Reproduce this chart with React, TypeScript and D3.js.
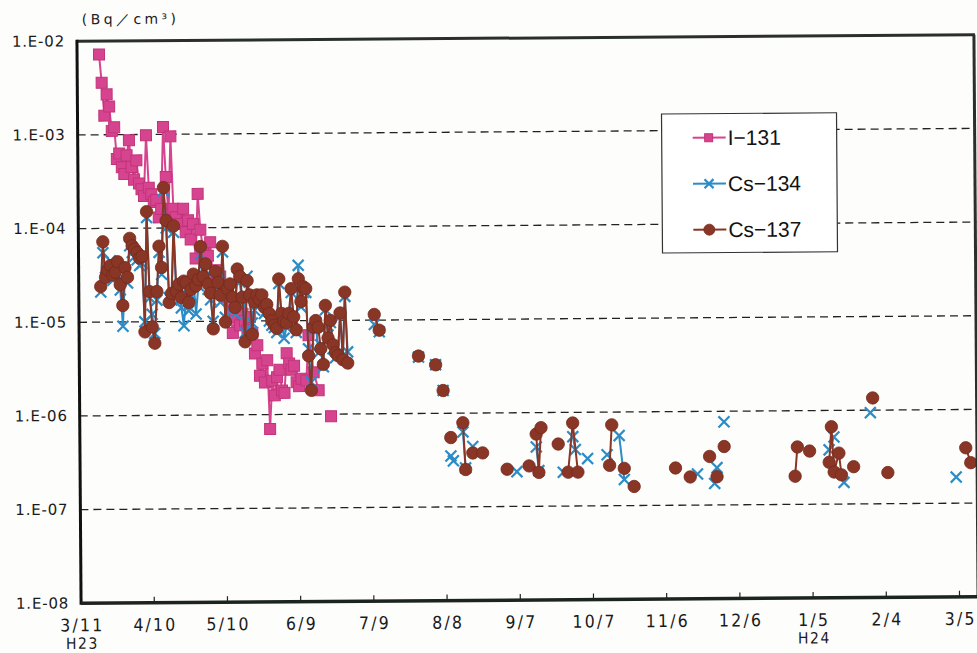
import React from 'react';
import * as d3 from 'd3';

const W = 977;
const H = 653;
const PLOT = { left: 79, right: 977, top: 38, bottom: 600 };

// x axis: ticks every 30 days from 3/11 (H23)
const tickDates = [
  '2011-03-11', '2011-04-10', '2011-05-10', '2011-06-09', '2011-07-09', '2011-08-08', '2011-09-07',
  '2011-10-07', '2011-11-06', '2011-12-06', '2012-01-05', '2012-02-04', '2012-03-05',
];
const tickLabels = ['3/11', '4/10', '5/10', '6/9', '7/9', '8/8', '9/7', '10/7', '11/6', '12/6', '1/5', '2/4', '3/5'];
const eraLabels = ['H23', '', '', '', '', '', '', '', '', '', 'H24', '', ''];

const yTicks = [1e-2, 1e-3, 1e-4, 1e-5, 1e-6, 1e-7, 1e-8];
const yTickLabels = ['1.E-02', '1.E-03', '1.E-04', '1.E-05', '1.E-06', '1.E-07', '1.E-08'];

// daily measurements 3/20 - 6/29 (2011)
const denseDates = [
  '3/20', '3/21', '3/22', '3/23', '3/24', '3/25', '3/26', '3/27', '3/28', '3/29', '3/30', '3/31',
  '4/1', '4/2', '4/3', '4/4', '4/5', '4/6', '4/7', '4/8', '4/9', '4/10',
  '4/11', '4/12', '4/13', '4/14', '4/15', '4/16', '4/17', '4/18', '4/19', '4/20',
  '4/21', '4/22', '4/23', '4/24', '4/25', '4/26', '4/27', '4/28', '4/29', '4/30',
  '5/1', '5/2', '5/3', '5/4', '5/5', '5/6', '5/7', '5/8', '5/9', '5/10',
  '5/11', '5/12', '5/13', '5/14', '5/15', '5/16', '5/17', '5/18', '5/19', '5/20',
  '5/21', '5/22', '5/23', '5/24', '5/25', '5/26', '5/27', '5/28', '5/29', '5/30', '5/31',
  '6/1', '6/2', '6/3', '6/4', '6/5', '6/6', '6/7', '6/8', '6/9', '6/10',
  '6/11', '6/12', '6/13', '6/14', '6/15', '6/16', '6/17', '6/18', '6/19', '6/20',
  '6/21', '6/22', '6/23', '6/24', '6/25', '6/26', '6/27', '6/28', '6/29',
];

const i131Dense: (number | null)[] = [
  7.2e-3, 3.6e-3, 1.6e-3, 2.7e-3, 2.0e-3, 1.1e-3, 1.2e-3, 5.5e-4, 6.3e-4, 4.5e-4, 3.8e-4, 6.0e-4,
  8.7e-4, 4.5e-4, 3.3e-4, 5.3e-4, 3.0e-4, 2.6e-4, 2.2e-4, 9.8e-4, 2.7e-4, 2.3e-4,
  1.9e-4, 2.0e-4, 1.3e-4, 1.6e-4, 1.2e-3, 3.5e-4, 1.4e-4, 9.5e-4, 1.6e-4, 1.3e-4,
  1.1e-4, 1.1e-4, 1.6e-4, 9.0e-5, 1.2e-4, 7.5e-5, 1.1e-4, 4.7e-5, 2.3e-4, 9.5e-5,
  6.0e-5, 4.5e-5, 5.0e-5, 7.0e-5, 2.6e-5, 3.5e-5, 2.5e-5, 3.0e-5, 2.2e-5, 1.8e-5,
  2.0e-5, 1.3e-5, 7.5e-6, 1.1e-5, 1.5e-5, 9.0e-6, 1.2e-5, 1.0e-5, 8.0e-6, 1.1e-5,
  7.5e-6, 4.5e-6, 5.5e-6, 2.6e-6, 3.5e-6, 2.2e-6, 3.8e-6, 7.0e-7, 2.3e-6, 1.6e-6, 2.5e-6,
  3.0e-6, 1.8e-6, 1.7e-6, 4.5e-6, 3.5e-6, 3.0e-6, 3.3e-6, 2.2e-6, 2.0e-6, 2.4e-6,
  null, 2.3e-6, 7.0e-6, null, 2.8e-6, null, 1.8e-6, null, null, null,
  null, 9.5e-7, null, null, null, null, null, null, null,
];

const cs134Dense: (number | null)[] = [
  2.1e-5, 5.5e-5, 3.0e-5, 3.5e-5, 4.5e-5, 2.8e-5, 3.0e-5, 3.8e-5, 2.2e-5, 9.0e-6, 3.3e-5, 2.6e-5,
  6.5e-5, 5.5e-5, 5.0e-5, 4.6e-5, 4.0e-5, 4.2e-5, 1.0e-5, 1.3e-4, 1.8e-5, 1.2e-5,
  7.5e-6, 1.7e-5, 5.5e-5, 3.2e-5, 2.5e-4, 1.0e-4, 1.8e-5, 1.7e-5, 9.0e-5, 1.9e-5,
  2.2e-5, 1.4e-5, 9.0e-6, 2.2e-5, 1.3e-5, 1.9e-5, 2.8e-5, 1.2e-5, 2.4e-5, 5.2e-5,
  2.6e-5, 3.5e-5, 2.2e-5, 1.7e-5, 1.0e-5, 2.9e-5, 2.2e-5, 1.6e-5, 5.5e-5, 1.1e-5,
  1.9e-5, 2.1e-5, 1.5e-5, 1.2e-5, 3.0e-5, 2.6e-5, 1.5e-5, 7.5e-6, 3.0e-5, 1.7e-5,
  9.5e-6, 1.3e-5, 1.6e-5, 1.5e-5, 1.8e-5, 1.2e-5, 1.3e-5, 1.0e-5, 9.0e-6, 8.5e-6, 7.5e-6,
  2.5e-5, 1.1e-5, 6.5e-6, 8.5e-6, 1.0e-5, 2.0e-5, 1.0e-5, 7.5e-6, 3.9e-5, 1.4e-5,
  2.0e-5, 2.0e-5, 5.0e-6, 2.2e-6, 8.0e-6, 9.5e-6, 4.5e-6, 5.5e-6, 3.2e-6, 1.3e-5,
  7.0e-6, 9.5e-6, 5.0e-6, 4.0e-6, 4.5e-6, 1.1e-5, 4.2e-6, 1.8e-5, 4.6e-6,
];

const cs137Dense: (number | null)[] = [
  2.4e-5, 7.2e-5, 3.0e-5, 3.6e-5, 4.0e-5, 3.2e-5, 3.4e-5, 4.4e-5, 2.5e-5, 1.5e-5, 3.8e-5, 3.0e-5,
  7.8e-5, 6.5e-5, 6.0e-5, 5.5e-5, 4.8e-5, 5.0e-5, 7.8e-6, 1.5e-4, 2.1e-5, 8.8e-6,
  5.9e-6, 2.1e-5, 6.4e-5, 3.8e-5, 2.7e-4, 1.2e-4, 1.6e-5, 2.0e-5, 1.05e-4, 2.1e-5,
  2.5e-5, 1.8e-5, 2.7e-5, 2.6e-5, 1.6e-5, 2.2e-5, 3.2e-5, 2.4e-5, 2.8e-5, 6.3e-5,
  3.0e-5, 4.1e-5, 2.5e-5, 2.0e-5, 8.3e-6, 3.4e-5, 2.6e-5, 1.9e-5, 6.3e-5, 9.8e-6,
  2.2e-5, 2.5e-5, 1.8e-5, 1.4e-5, 3.6e-5, 3.0e-5, 1.8e-5, 6.0e-6, 2.7e-5, 1.9e-5,
  7.2e-6, 1.6e-5, 1.9e-5, 1.7e-5, 1.9e-5, 1.4e-5, 1.5e-5, 1.2e-5, 1.0e-5, 9.0e-6, 8.3e-6,
  2.8e-5, 1.2e-5, 9.8e-6, 9.5e-6, 1.2e-5, 2.2e-5, 1.1e-5, 8.0e-6, 2.8e-5, 1.6e-5,
  2.3e-5, 2.2e-5, 4.2e-6, 1.8e-6, 8.5e-6, 1.0e-5, 8.5e-6, 5.0e-6, 3.4e-6, 1.45e-5,
  6.5e-6, 1.0e-5, 5.5e-6, 4.5e-6, 4.2e-6, 1.2e-5, 3.8e-6, 2.0e-5, 3.5e-6,
];

// later, sparser measurements
const cs134LaterDates = [
  '2011-07-10', '2011-07-12', '2011-07-28', '2011-08-04', '2011-08-07', '2011-08-10', '2011-08-11',
  '2011-08-15', '2011-08-16', '2011-08-19', '2011-09-06', '2011-09-14', '2011-09-15', '2011-09-25',
  '2011-09-29', '2011-09-30', '2011-10-05', '2011-10-13', '2011-10-18', '2011-10-20', '2011-11-19',
  '2011-11-26', '2011-11-27', '2011-11-30', '2012-01-12', '2012-01-14', '2012-01-18', '2012-01-29',
  '2012-03-04',
];
const cs134LaterValues = [
  9.0e-6, 7.5e-6, 4.0e-6, 3.3e-6, 1.75e-6, 3.5e-7, 3.1e-7,
  6.3e-7, 2.6e-7, 4.4e-7, 2.35e-7, 4.3e-7, 2.4e-7, 2.3e-7,
  5.5e-7, 4.0e-7, 3.2e-7, 3.5e-7, 5.6e-7, 1.9e-7, 2.15e-7,
  1.7e-7, 2.5e-7, 7.7e-7, 3.8e-7, 5.2e-7, 1.7e-7, 9.4e-7,
  1.9e-7,
];

const cs137LaterDates = [
  '2011-07-10', '2011-07-12', '2011-07-28', '2011-08-04', '2011-08-07', '2011-08-10', '2011-08-15',
  '2011-08-16', '2011-08-19', '2011-08-23', '2011-09-02', '2011-09-11', '2011-09-14', '2011-09-15',
  '2011-09-16', '2011-09-23', '2011-09-27', '2011-09-29', '2011-10-01', '2011-10-14', '2011-10-15',
  '2011-10-20', '2011-10-24', '2011-11-10', '2011-11-16', '2011-11-24', '2011-11-27', '2011-11-30',
  '2011-12-29', '2011-12-30', '2012-01-04', '2012-01-12', '2012-01-13', '2012-01-14', '2012-01-16',
  '2012-01-17', '2012-01-22', '2012-01-30', '2012-02-05', '2012-03-08', '2012-03-10',
];
const cs137LaterValues = [
  1.15e-5, 7.8e-6, 4.1e-6, 3.3e-6, 1.75e-6, 5.5e-7, 7.9e-7,
  2.5e-7, 3.75e-7, 3.75e-7, 2.5e-7, 2.7e-7, 5.9e-7, 2.3e-7,
  6.9e-7, 4.6e-7, 2.3e-7, 7.7e-7, 2.3e-7, 2.7e-7, 7.3e-7,
  2.5e-7, 1.6e-7, 2.5e-7, 2.0e-7, 3.3e-7, 2.0e-7, 4.2e-7,
  2.0e-7, 4.1e-7, 3.7e-7, 2.8e-7, 6.7e-7, 2.2e-7, 3.5e-7,
  2.05e-7, 2.5e-7, 1.35e-6, 2.15e-7, 3.9e-7, 2.7e-7,
];

const COLORS = {
  i131: '#d6448f',
  i131Edge: '#c2337a',
  cs134: '#2b8cc6',
  cs137: '#8a3626',
  cs137Edge: '#76291b',
};

type Pt = { date: Date; value: number };

const parseIso = d3.timeParse('%Y-%m-%d');
const parseMD = (s: string) => {
  const [m, d] = s.split('/').map(Number);
  return new Date(2011, m - 1, d);
};

const buildPoints = (vals: (number | null)[], laterDates: string[] = [], laterVals: number[] = []): Pt[] => {
  const pts: Pt[] = [];
  vals.forEach((v, i) => { if (v != null) pts.push({ date: parseMD(denseDates[i]), value: v }); });
  laterDates.forEach((s, i) => pts.push({ date: parseIso(s) as Date, value: laterVals[i] }));
  return pts;
};

// blank days break the line, consecutive measurements are joined
const toSegments = (pts: Pt[]): Pt[][] => {
  const segs: Pt[][] = [];
  let cur: Pt[] = [];
  pts.forEach((p, i) => {
    if (i > 0 && (p.date.getTime() - pts[i - 1].date.getTime()) / 864e5 > 2.5) {
      segs.push(cur);
      cur = [];
    }
    cur.push(p);
  });
  if (cur.length) segs.push(cur);
  return segs;
};

const i131Pts = buildPoints(i131Dense);
const cs134Pts = buildPoints(cs134Dense, cs134LaterDates, cs134LaterValues);
const cs137Pts = buildPoints(cs137Dense, cs137LaterDates, cs137LaterValues);

const Square = ({ cx, cy, s }: { cx: number; cy: number; s: number }) => (
  <rect x={cx - s / 2} y={cy - s / 2} width={s} height={s} fill={COLORS.i131} stroke={COLORS.i131Edge} strokeWidth={1} />
);
const Cross = ({ cx, cy, s }: { cx: number; cy: number; s: number }) => (
  <path d={`M${cx - s},${cy - s}L${cx + s},${cy + s}M${cx - s},${cy + s}L${cx + s},${cy - s}`}
    stroke={COLORS.cs134} strokeWidth={2.2} fill="none" />
);
const Dot = ({ cx, cy, r }: { cx: number; cy: number; r: number }) => (
  <circle cx={cx} cy={cy} r={r} fill={COLORS.cs137} stroke={COLORS.cs137Edge} strokeWidth={0.8} />
);

const AXIS_FONT = "'Liberation Sans Narrow', 'DejaVu Sans Condensed', sans-serif";

export default function App() {
  const x = d3.scaleTime()
    .domain([new Date(2011, 2, 11), new Date(2012, 2, 13)])
    .range([PLOT.left, PLOT.right]);
  const y = d3.scaleLog().domain([1e-8, 1e-2]).range([PLOT.bottom, PLOT.top]);

  const line = d3.line<Pt>().x(d => x(d.date)).y(d => y(d.value));

  const seriesLines = (pts: Pt[], color: string) =>
    toSegments(pts).filter(s => s.length > 1).map((s, i) => (
      <path key={i} d={line(s) || ''} fill="none" stroke={color} strokeWidth={2} strokeLinejoin="round" />
    ));

  const legendItems = [
    { label: 'I−131', key: 'i131' },
    { label: 'Cs−134', key: 'cs134' },
    { label: 'Cs−137', key: 'cs137' },
  ];

  return (
    <svg width={W} height={H} style={{ position: 'absolute', left: 0, top: 0, background: '#fdfdfc' }}>
      <rect width={W} height={H} fill="#fdfdfc" />
      {/* the scanned page is slightly tilted */}
      <g transform="rotate(-0.42 528 319)">
        <text x={84} y={21} fontFamily="DejaVu Sans, sans-serif" fontSize={14} letterSpacing={3.4} fill="#222">
          (Bq／cm³)
        </text>

        {/* gridlines */}
        {yTicks.slice(1, -1).map(t => (
          <line key={t} x1={PLOT.left} x2={PLOT.right} y1={y(t)} y2={y(t)}
            stroke="#222" strokeWidth={1.3} strokeDasharray="8,5" />
        ))}

        {/* y tick labels */}
        {yTicks.map((t, i) => (
          <text key={t} x={67} y={y(t) + 5} textAnchor="end" fontFamily="DejaVu Sans, sans-serif"
            fontSize={15} letterSpacing={0.8} fill="#1a1a1a">{yTickLabels[i]}</text>
        ))}

        {/* series */}
        {seriesLines(i131Pts, COLORS.i131)}
        {i131Pts.map((p, i) => <Square key={i} cx={x(p.date)} cy={y(p.value)} s={11} />)}
        {seriesLines(cs134Pts, COLORS.cs134)}
        {cs134Pts.map((p, i) => <Cross key={i} cx={x(p.date)} cy={y(p.value)} s={5.5} />)}
        {seriesLines(cs137Pts, COLORS.cs137)}
        {cs137Pts.map((p, i) => <Dot key={i} cx={x(p.date)} cy={y(p.value)} r={6.2} />)}

        {/* frame */}
        <line x1={PLOT.left} x2={PLOT.right} y1={PLOT.top} y2={PLOT.top} stroke="#2a2f2c" strokeWidth={3} />
        <line x1={PLOT.right - 1} x2={PLOT.right - 1} y1={PLOT.top} y2={PLOT.bottom} stroke="#2a2f2c" strokeWidth={3} />
        <line x1={PLOT.left} x2={PLOT.left} y1={PLOT.top - 1.5} y2={PLOT.bottom + 1.5} stroke="#111" strokeWidth={3} />
        <line x1={PLOT.left} x2={PLOT.right} y1={PLOT.bottom} y2={PLOT.bottom} stroke="#1c2420" strokeWidth={3.5} />

        {/* x ticks and labels */}
        {tickDates.map((s, i) => {
          const tx = x(parseIso(s) as Date);
          return (
            <g key={s}>
              {i > 0 && <line x1={tx} x2={tx} y1={PLOT.bottom} y2={PLOT.bottom - 6} stroke="#222" strokeWidth={1.2} />}
              <text x={tx + 1} y={628} textAnchor="middle" fontFamily={AXIS_FONT}
                fontSize={17.5} letterSpacing={2.2} fill="#1a1a1a">{tickLabels[i]}</text>
              {eraLabels[i] && (
                <text x={tx + 1} y={645.5} textAnchor="middle" fontFamily={AXIS_FONT}
                  fontSize={15.5} letterSpacing={1.5} fill="#1a1a1a">{eraLabels[i]}</text>
              )}
            </g>
          );
        })}

        {/* legend */}
        <g>
          <rect x={663} y={115} width={175} height={139} fill="#fff" stroke="#333" strokeWidth={1.2} />
          {legendItems.map((it, i) => {
            const cy = 139 + i * 46;
            const color = it.key === 'i131' ? COLORS.i131 : it.key === 'cs134' ? COLORS.cs134 : COLORS.cs137;
            return (
              <g key={it.key}>
                <line x1={694} x2={727} y1={cy} y2={cy} stroke={color} strokeWidth={2} />
                {it.key === 'i131' && <Square cx={710} cy={cy} s={8} />}
                {it.key === 'cs134' && <Cross cx={710} cy={cy} s={4.5} />}
                {it.key === 'cs137' && <Dot cx={710} cy={cy} r={5.5} />}
                <text x={729} y={cy + 7.5} fontFamily="'Liberation Sans', Arial, sans-serif" fontSize={21} fill="#111">
                  {it.label}
                </text>
              </g>
            );
          })}
        </g>
      </g>
    </svg>
  );
}
